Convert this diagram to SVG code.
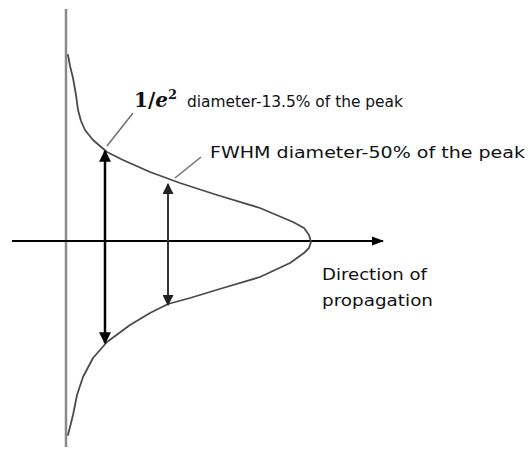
<svg xmlns="http://www.w3.org/2000/svg" width="531" height="454" viewBox="0 0 531 454">
<defs>
<style>
.curve{fill:none;stroke:#4a4a4a;stroke-width:1.8;stroke-linejoin:round;stroke-linecap:round}
.leader{fill:none;stroke:#707070;stroke-width:1.5}
.lbl{font-family:"DejaVu Sans",sans-serif;font-size:15px;fill:#111}
</style>
<marker id="ah" viewBox="0 0 10 10" refX="9" refY="5" markerWidth="4.8" markerHeight="4.8" orient="auto-start-reverse" markerUnits="strokeWidth">
<path d="M0,0 L10,5 L0,10 Z" fill="#000"/>
</marker>
<marker id="ah2" viewBox="0 0 10 10" refX="9" refY="5" markerWidth="5.5" markerHeight="5.5" orient="auto-start-reverse" markerUnits="strokeWidth">
<path d="M0,0 L10,5 L0,10 Z" fill="#222"/>
</marker>
</defs>
<rect width="531" height="454" fill="#fff"/>
<g id="axes">
<line x1="66" y1="9" x2="66" y2="447" stroke="#8a8a8a" stroke-width="2.5"/>
<line x1="12" y1="241" x2="383" y2="241" stroke="#000" stroke-width="2"/>
<path d="M372,236.5 L384,241 L372,245.5 Z" fill="#000"/>
</g>
<g id="beam">
<polyline class="curve" points="68,55 70,66 73,78 76,95 78,110 81,121 85,130 93,140 107,152 123,160 150,172 180,183 217,195 260,208 293,222 304,228 309,235 311,242 309,248 304,253 290,263 260,277 223,288 190,298 168,304 150,313 130,325 107,342 93,358 83,377 77,395 73,415 68,435"/>
</g>
<g id="connectors">
<line x1="105" y1="151" x2="105" y2="343" stroke="#000" stroke-width="2.5" marker-start="url(#ah)" marker-end="url(#ah)"/>
<line x1="168" y1="184" x2="168" y2="305" stroke="#333" stroke-width="2" marker-start="url(#ah2)" marker-end="url(#ah2)"/>
<line class="leader" x1="107" y1="146" x2="133" y2="113"/>
<line class="leader" x1="175" y1="178" x2="201" y2="157"/>
</g>
<g id="label-e2">
<text x="134" y="107" font-family="'DejaVu Serif','Liberation Serif',serif" font-weight="bold" font-size="20" fill="#111">1/<tspan font-style="italic">e</tspan><tspan font-size="13" dy="-8">2</tspan></text>
<text class="lbl" x="187" y="107" textLength="216" lengthAdjust="spacingAndGlyphs">diameter-13.5% of the peak</text>
</g>
<g id="label-fwhm">
<text class="lbl" x="210" y="158" textLength="315" lengthAdjust="spacingAndGlyphs">FWHM diameter-50% of the peak</text>
</g>
<g id="label-direction">
<text class="lbl" x="322" y="280" textLength="105" lengthAdjust="spacingAndGlyphs">Direction of</text>
<text class="lbl" x="322" y="306" textLength="111" lengthAdjust="spacingAndGlyphs">propagation</text>
</g>
</svg>
